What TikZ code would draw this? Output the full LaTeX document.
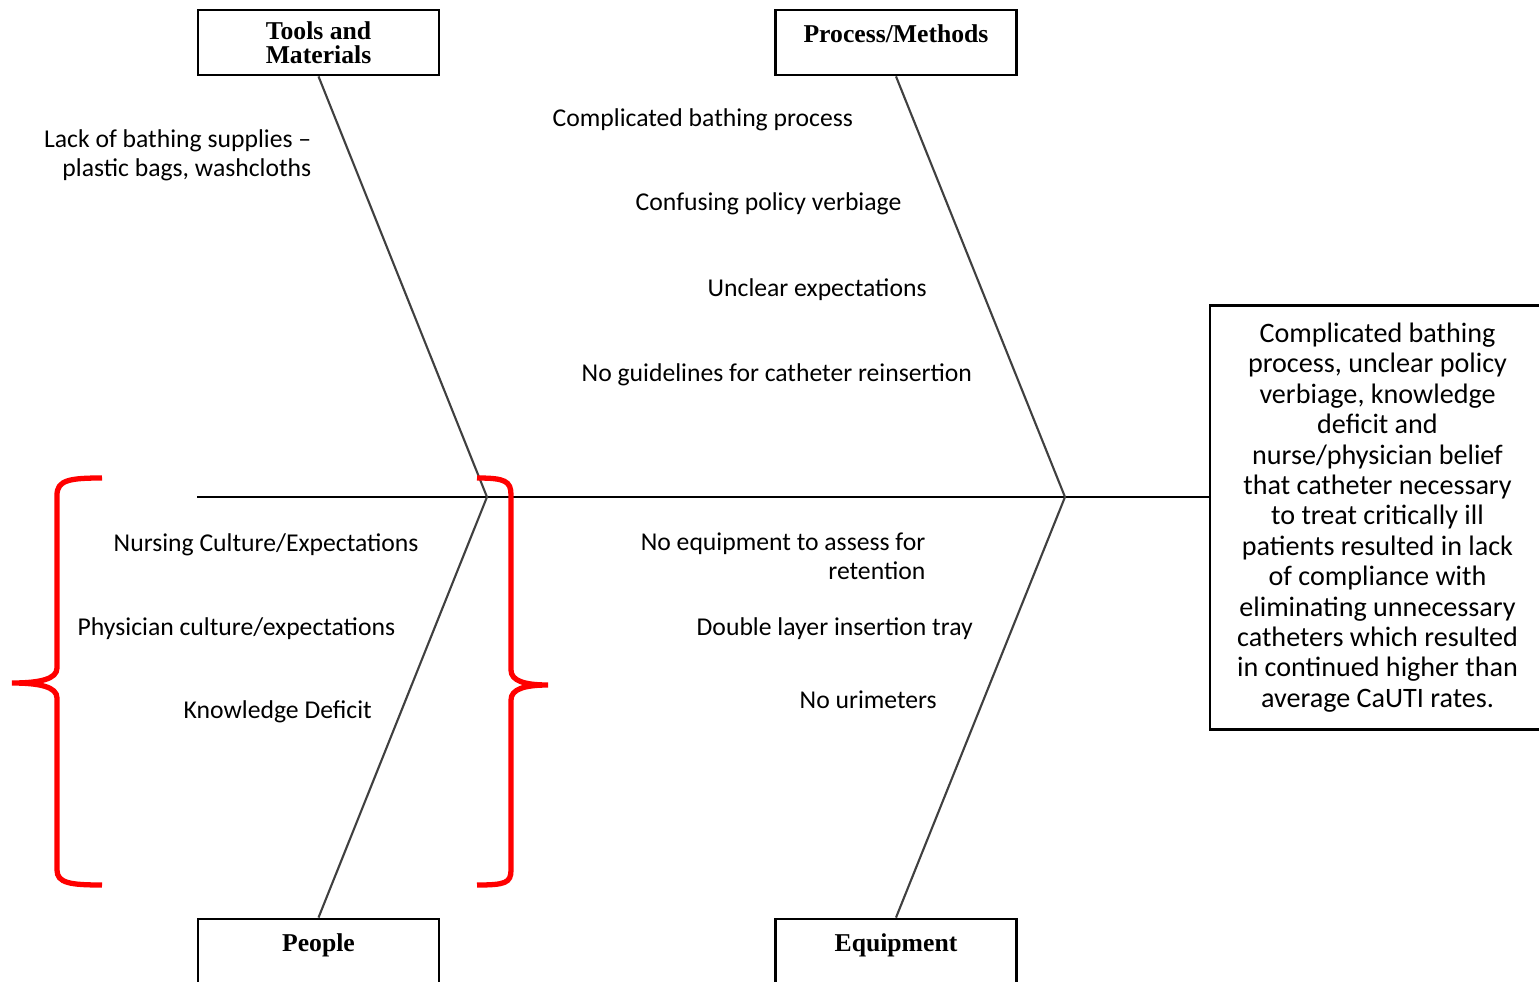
\documentclass[tikz,border=0pt]{standalone}
\usepackage{fontspec}
\setmainfont{Liberation Serif}
\newfontfamily\causefont[Ligatures=TeX]{Carlito}

\begin{document}
\begin{tikzpicture}[x=0.01cm,y=-0.01cm,
        catbox/.style={draw,line width=0.8pt,minimum width=2.41cm,minimum height=0.65cm,
            inner sep=0pt,align=center,font=\bfseries\fontsize{7.3}{6.9}\selectfont},
        cause/.style={inner sep=0pt,font=\causefont\fontsize{7.3}{8.3}\selectfont},
        bone/.style={line width=0.6pt,black!75},
        brace/.style={red,line width=1.5pt}]
        \useasboundingbox (0,0) rectangle (1539,982);

        % categories
        \node[catbox]   at (318.5,42.5)     (tools)     {Tools and\\Materials};
        \node[catbox]   at (896,42.5)       (process)   {\rule{0pt}{7pt}Process/Methods\\~};
        \node[catbox]   at (318.5,951.5)    (people)    {\rule{0pt}{7pt}People\\~};
        \node[catbox]   at (896,951.5)      (equip)     {\rule{0pt}{7pt}Equipment\\~};

        % effect
        \node[draw,line width=0.8pt,minimum width=3.35cm,minimum height=4.23cm,inner sep=0pt,
            align=center,font=\causefont\fontsize{8}{8.65}\selectfont]
                        at (1377.5,517.5)   (effect)    {Complicated bathing\\process, unclear policy\\
            verbiage, knowledge\\deficit and\\nurse/physician belief\\that catheter necessary\\
            to treat critically ill\\patients resulted in lack\\of compliance with\\
            eliminating unnecessary\\catheters which resulted\\in continued higher than\\
            average CaUTI rates.};

        \coordinate                     (tail)  at (197,497);
        \coordinate                     (jl)    at (487,497);
        \coordinate                     (jr)    at (1065,497);

        \draw[line width=0.7pt] (tail) -- (tail -| effect.west);
        \draw[bone] (tools.south) -- (jl) -- (people.north);
        \draw[bone] (process.south) -- (jr) -- (equip.north);

        % causes
        \node[cause,anchor=north east,align=right] at (312,129) (lack)
            {Lack of bathing supplies –\\plastic bags, washcloths};
        \node[cause,anchor=base west]   at (552,127)    (bathing)   {Complicated bathing process};
        \node[cause,anchor=base west]   at (635,211)    (verbiage)  {Confusing policy verbiage};
        \node[cause,anchor=base west]   at (707,297)    (unclear)   {Unclear expectations};
        \node[cause,anchor=base west]   at (581,381)    (guide)     {No guidelines for catheter reinsertion};
        \node[cause,anchor=base west]   at (113,551)    (nursing)   {Nursing Culture/Expectations};
        \node[cause,anchor=base west]   at (77,635)     (physician) {Physician culture/expectations};
        \node[cause,anchor=base west]   at (183,718)    (knowledge) {Knowledge Deficit};
        \node[cause,anchor=north east,align=right] at (926,532) (assess)
            {No equipment to assess for\\retention};
        \node[cause,anchor=base west]   at (696,635)    (tray)      {Double layer insertion tray};
        \node[cause,anchor=base west]   at (799,708)    (urimeter)  {No urimeters};

        % red brackets round People
        \draw[brace] (102,478) .. controls (70,478) and (57,480) .. (57,495) -- (57,668)
            .. controls (57,679) and (40,683) .. (12,683) .. controls (40,683) and (57,687) .. (57,698)
            -- (57,870) .. controls (57,883) and (70,885) .. (102,885);
        \draw[brace] (477,478) .. controls (505,478) and (511,481) .. (511,495) -- (511,670)
            .. controls (511,681) and (525,685) .. (548,685) .. controls (525,685) and (511,689) .. (511,700)
            -- (511,870) .. controls (511,883) and (505,885) .. (477,885);
    \end{tikzpicture}
\end{document}
